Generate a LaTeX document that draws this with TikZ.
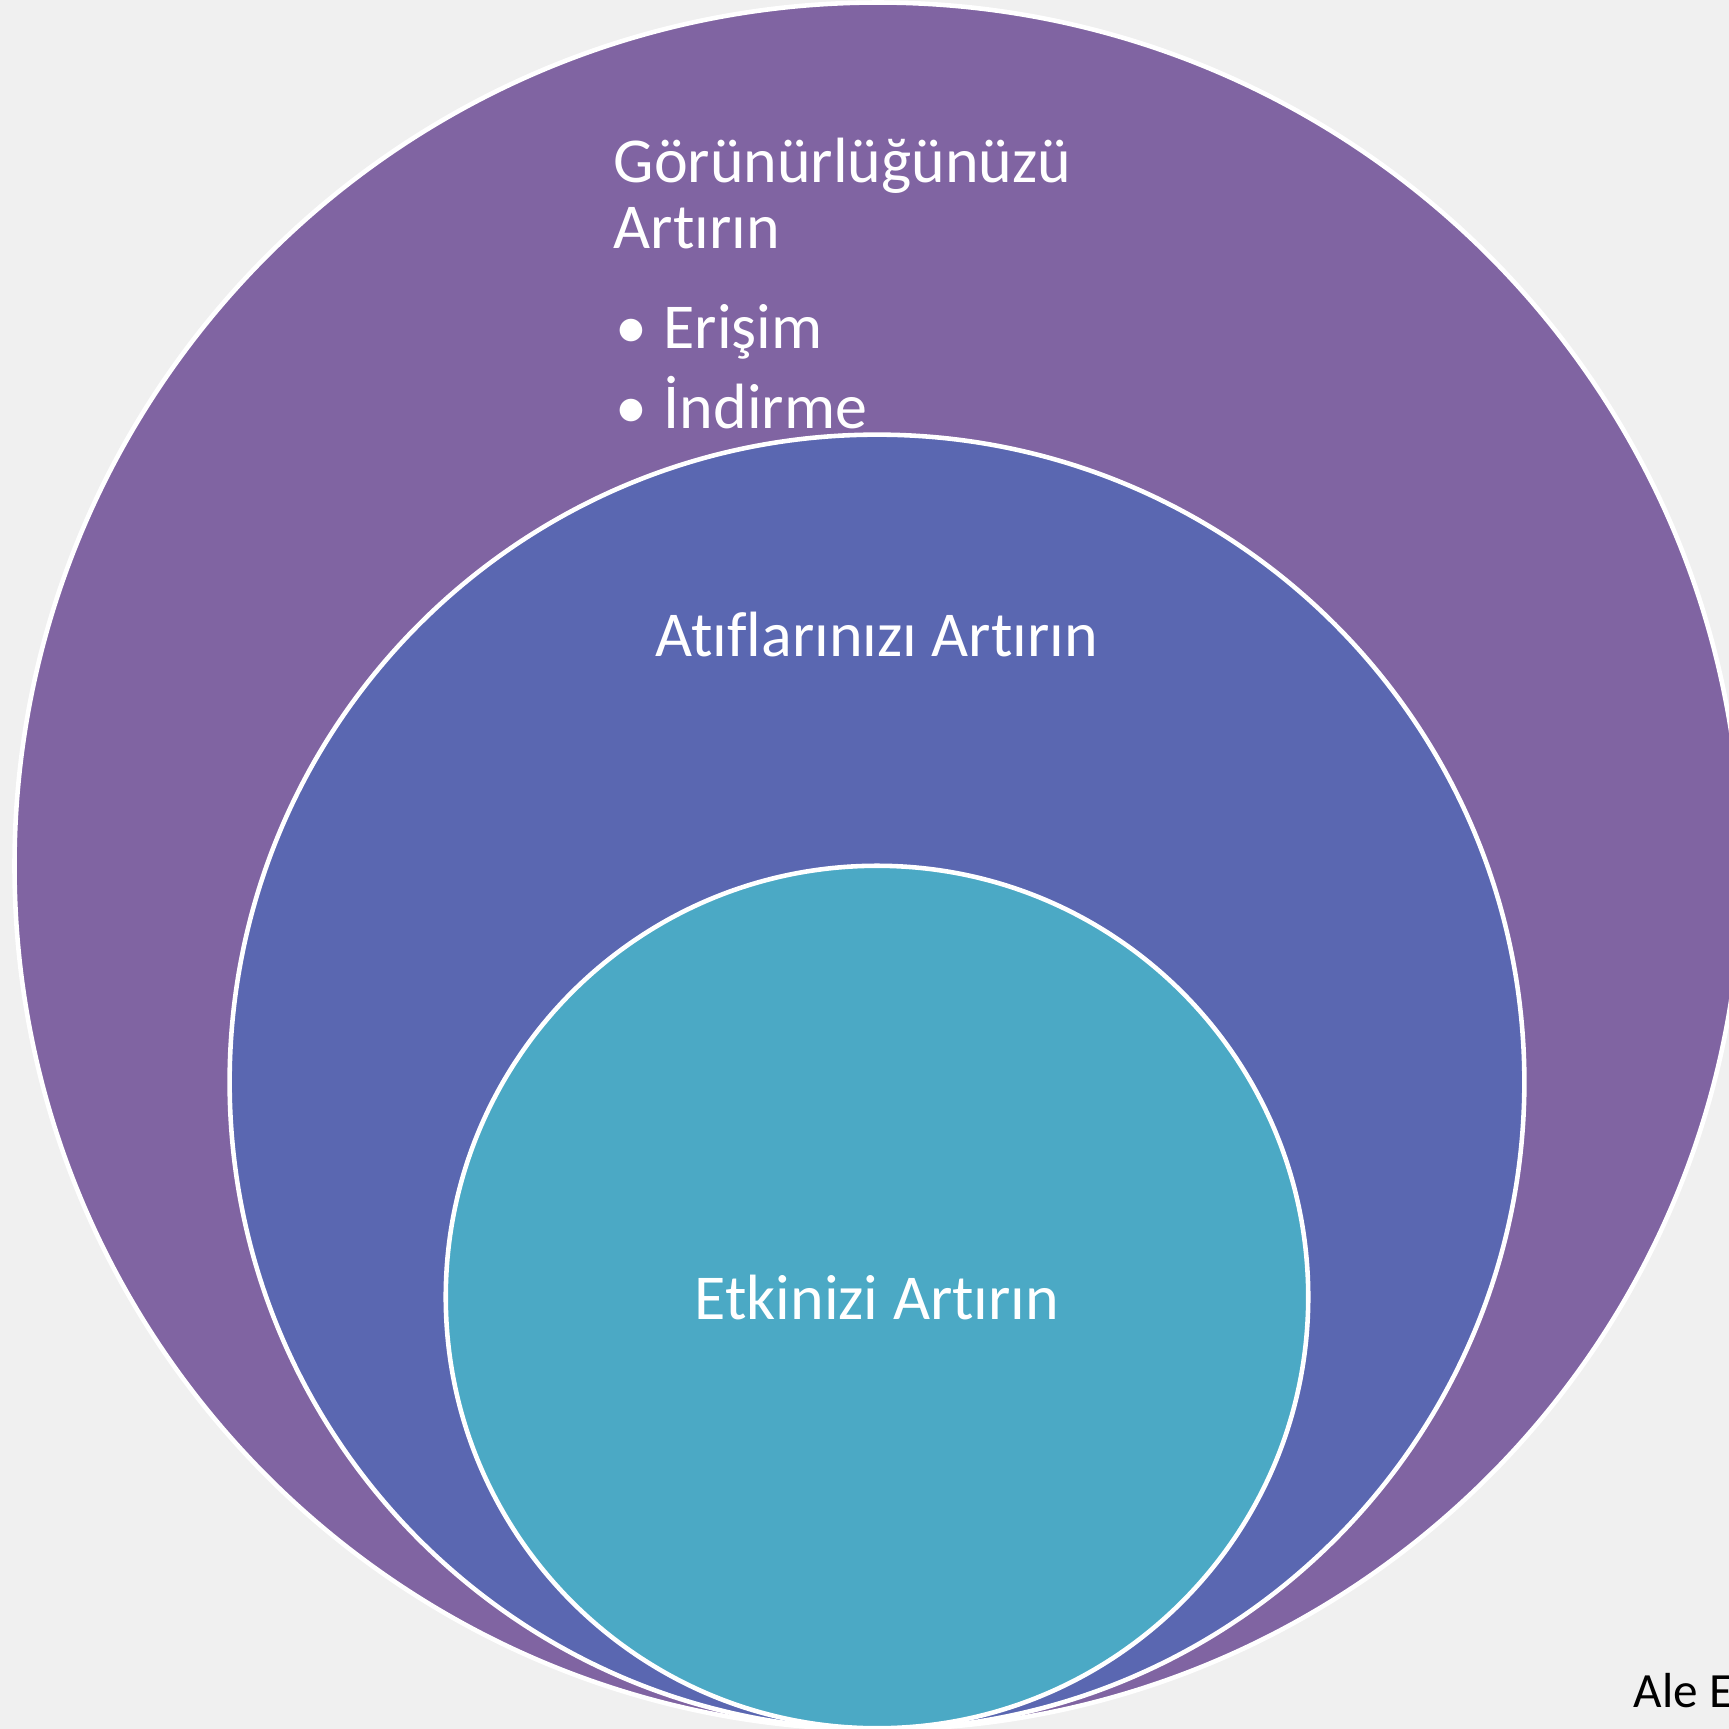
\documentclass[tikz,border=0pt]{standalone}
\usepackage{fontspec}
\setmainfont{Carlito}[Ligatures=NoCommon]
\usetikzlibrary{positioning}
\definecolor{pagegray}{HTML}{F0F0F0}
\definecolor{outerpurple}{HTML}{8064A2}
\definecolor{midblue}{HTML}{5A67B1}
\definecolor{innerteal}{HTML}{4BA9C5}

\begin{document}
\begin{tikzpicture}[x=0.01cm, y=-0.01cm,
    ring/.style={circle, draw=white, line width=1.3pt, inner sep=0pt},
    whitetext/.style={text=white, font=\fontsize{18.2}{18.2}\selectfont, inner sep=0pt}]
    \useasboundingbox (0,0) rectangle (1729,1729);
    \fill[pagegray] (0,0) rectangle (1729,1729);
    \clip (0,0) rectangle (1729,1729);

    \node[ring, fill=outerpurple, minimum size=17.26cm] (visibility) at (878,866)  {};
    \node[ring, fill=midblue,     minimum size=12.94cm] (citations)  at (877,1082) {};
    \node[ring, fill=innerteal,   minimum size=8.62cm]  (impact)     at (877,1297) {};

    \node[whitetext, anchor=base west] (vis title 1) at (613,182) {Görünürlüğünüzü};
    \node[whitetext, anchor=base west] (vis title 2) at (613,248) {Artırın};
    \node[whitetext, anchor=base west] (vis item 1)  at (615,348) {\makebox[0.48cm][l]{•}Erişim};
    \node[whitetext, anchor=base west] (vis item 2)  at (615,428) {\makebox[0.48cm][l]{•}İndirme};

    \node[whitetext, anchor=base] (cit title) at (877,656)  {Atıflarınızı Artırın};
    \node[whitetext, anchor=base] (imp title) at (877,1319) {Etkinizi Artırın};

    \node[anchor=base west, inner sep=0pt, font=\fontsize{14}{14}\selectfont] (author) at (1633,1707) {Ale E};
\end{tikzpicture}
\end{document}
